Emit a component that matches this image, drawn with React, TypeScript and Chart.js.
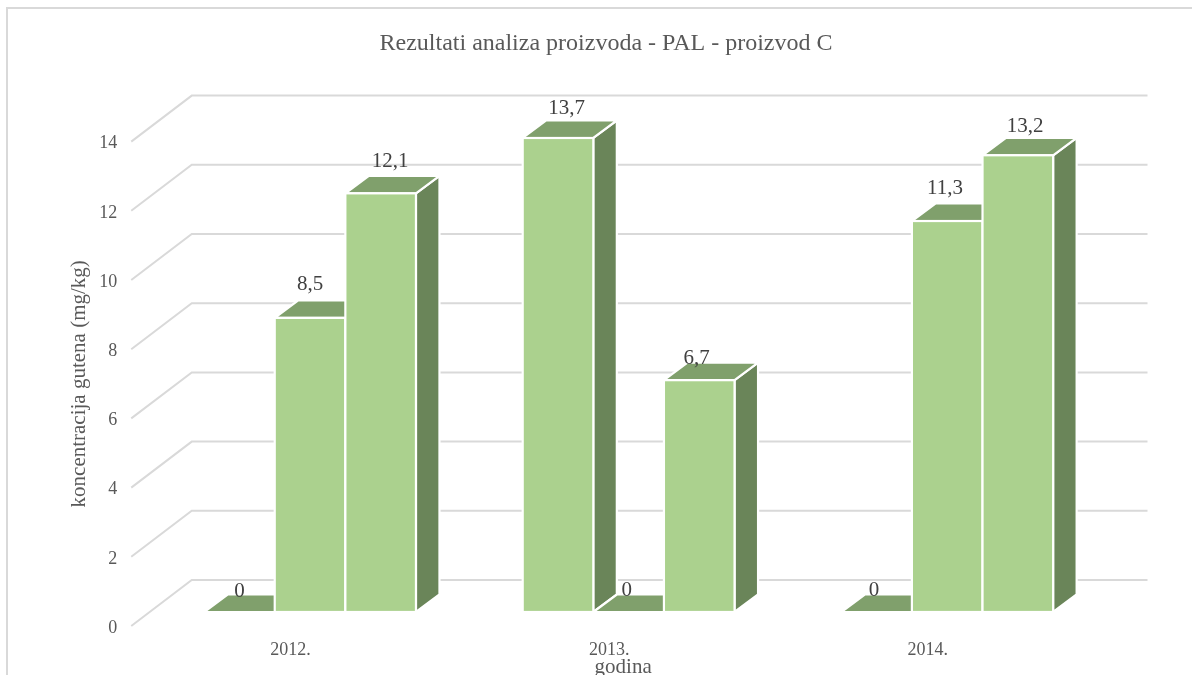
import React, { useEffect, useRef } from "react";
import { Chart, registerables } from "chart.js";

Chart.register(...registerables);

const years = ["2012.", "2013.", "2014."];
const seriesA = [0, 13.7, 0];
const seriesB = [8.5, 0, 11.3];
const seriesC = [12.1, 6.7, 13.2];
const yTicks = { min: 0, max: 14, step: 2 };
const chartTitle = "Rezultati analiza proizvoda - PAL - proizvod C";
const xTitle = "godina";
const yTitle = "koncentracija gutena (mg/kg)";

// hand-placed label shifts of the original, [dx, dy] per dataset and category
const labelShift = [
  [[0, -21], [8.7, -29.5], [-2.6, -22]],
  [[0, -33.5], [-2, -22], [-2.2, -33]],
  [[9.4, -32], [-2.5, -22], [7.2, -29]],
];

const FRONT = "#ABD18E";
const TOP = "#80A06C";
const SIDE = "#6A8559";
const GRID = "#D9D9D9";
const TEXT = "#595959";
const LABEL = "#404040";
const SERIF = "'Liberation Serif'";

const WALL = { dx: 60.5, dy: -46 };
const BAR_POS = { dx: 19.5, dy: -14 };
const BAR_DEPTH = { dx: 23.5, dy: -17.5 };

function poly(ctx: CanvasRenderingContext2D, pts: number[][], fill: string) {
  ctx.beginPath();
  pts.forEach(([x, y], i) => (i ? ctx.lineTo(x, y) : ctx.moveTo(x, y)));
  ctx.closePath();
  ctx.fillStyle = fill;
  ctx.fill();
  ctx.strokeStyle = "#FFFFFF";
  ctx.lineWidth = 2.2;
  ctx.lineJoin = "miter";
  ctx.stroke();
}

const scene3d = {
  id: "scene3d",
  beforeDraw(chart: any) {
    const { ctx, chartArea, scales } = chart;
    ctx.save();
    // chart frame
    ctx.strokeStyle = GRID;
    ctx.lineWidth = 2;
    ctx.beginPath();
    ctx.moveTo(7, chart.height);
    ctx.lineTo(7, 8);
    ctx.lineTo(chart.width, 8);
    ctx.stroke();
    // floor/back-wall grid
    scales.y.ticks.forEach((t: any) => {
      const y = scales.y.getPixelForValue(t.value);
      ctx.beginPath();
      ctx.moveTo(chartArea.left, y);
      ctx.lineTo(chartArea.left + WALL.dx, y + WALL.dy);
      ctx.lineTo(chartArea.right + WALL.dx, y + WALL.dy);
      ctx.stroke();
    });
    ctx.restore();
  },
  beforeDatasetsDraw(chart: any) {
    const { ctx } = chart;
    const metas = chart.data.datasets.map((_: any, i: number) => chart.getDatasetMeta(i));
    ctx.save();
    ctx.translate(BAR_POS.dx, BAR_POS.dy);
    chart.data.labels.forEach((_: any, c: number) => {
      metas.forEach((meta: any) => {
        const el = meta.data[c];
        const { x, y, base, width } = el.getProps(["x", "y", "base", "width"], true);
        const l = x - width / 2;
        const r = x + width / 2;
        const { dx, dy } = BAR_DEPTH;
        if (base - y > 0.5) {
          poly(ctx, [[r, y], [r + dx, y + dy], [r + dx, base + dy], [r, base]], SIDE);
        }
        poly(ctx, [[l, y], [r, y], [r + dx, y + dy], [l + dx, y + dy]], TOP);
        if (base - y > 0.5) {
          el.draw(ctx);
          ctx.strokeStyle = "#FFFFFF";
          ctx.lineWidth = 2.2;
          ctx.strokeRect(l, y, width, base - y);
        }
      });
    });
    ctx.restore();
    return false;
  },
  afterDraw(chart: any) {
    const { ctx, chartArea } = chart;
    const metas = chart.data.datasets.map((_: any, i: number) => chart.getDatasetMeta(i));
    ctx.save();
    ctx.textAlign = "center";
    ctx.textBaseline = "middle";
    // value labels
    ctx.font = `21px ${SERIF}`;
    ctx.fillStyle = LABEL;
    metas.forEach((meta: any, d: number) => {
      meta.data.forEach((el: any, c: number) => {
        const v = chart.data.datasets[d].data[c];
        const [sx, sy] = labelShift[d][c];
        ctx.fillText(String(v).replace(".", ","), el.x + BAR_POS.dx + sx, el.y + BAR_POS.dy + sy);
      });
    });
    // chart title and x-axis title
    ctx.fillStyle = TEXT;
    ctx.font = `24px ${SERIF}`;
    ctx.fillText(chartTitle, 606, 43.5);
    ctx.font = `21px ${SERIF}`;
    ctx.fillText(xTitle, (chartArea.left + chartArea.right) / 2 + 14, 667);
    ctx.restore();
  },
};

export default function App() {
  const ref = useRef<HTMLCanvasElement | null>(null);
  useEffect(() => {
    const chart = new Chart(ref.current as HTMLCanvasElement, {
      type: "bar",
      data: {
        labels: years,
        datasets: [
          { label: "A", data: seriesA, backgroundColor: FRONT, borderWidth: 0 },
          { label: "B", data: seriesB, backgroundColor: FRONT, borderWidth: 0 },
          { label: "C", data: seriesC, backgroundColor: FRONT, borderWidth: 0 },
        ],
      },
      options: {
        responsive: false,
        animation: false,
        layout: { padding: { top: 141.6, right: 105, bottom: 0, left: 0 } },
        datasets: { bar: { categoryPercentage: 0.665, barPercentage: 1 } },
        plugins: { legend: { display: false }, tooltip: { enabled: false }, title: { display: false } },
        scales: {
          x: {
            grid: { display: false },
            border: { display: false },
            ticks: { color: TEXT, font: { family: SERIF, size: 18 }, padding: 5, maxRotation: 0 },
            afterFit: (s: any) => { s.height = 49; },
          },
          y: {
            min: yTicks.min,
            max: yTicks.max,
            grid: { display: false },
            border: { display: false },
            ticks: { stepSize: yTicks.step, color: TEXT, font: { family: SERIF, size: 18 }, padding: 6, labelOffset: 2 },
            title: {
              display: true,
              text: yTitle,
              color: TEXT,
              font: { family: SERIF, size: 21 },
              padding: { top: 67, bottom: 0 },
            },
            afterFit: (s: any) => { s.width = 131.25; },
          },
        },
      },
      plugins: [scene3d],
    } as any);
    return () => chart.destroy();
  }, []);
  return (
    <div style={{ position: "absolute", left: 0, top: 0, width: 1192, height: 675, background: "#fff", overflow: "hidden" }}>
      <canvas ref={ref} width={1192} height={675} style={{ display: "block" }} />
    </div>
  );
}
